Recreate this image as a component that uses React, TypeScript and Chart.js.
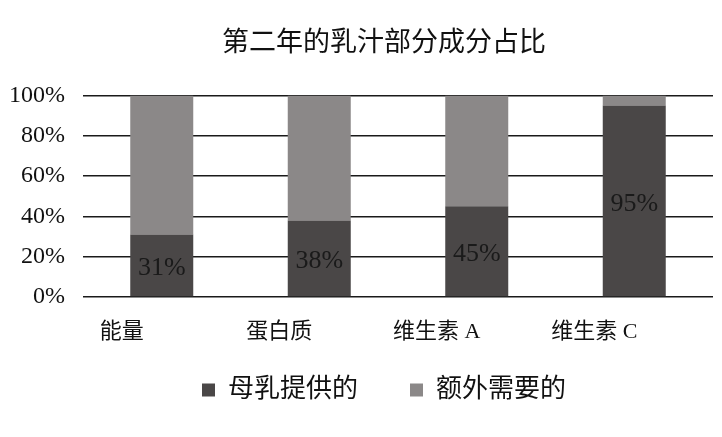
import React, { useEffect, useRef } from "react";
import { Chart, registerables } from "chart.js";

Chart.register(...registerables);

const categories = ["能量", "蛋白质", "维生素 A", "维生素 C"];
const breastMilk = [31, 38, 45, 95];
const extraNeeded = [69, 62, 55, 5];
const seriesNames = ["母乳提供的", "额外需要的"];
const titleText = "第二年的乳汁部分成分占比";

const CJK = "'Liberation Serif', 'Noto Sans CJK SC', serif";

const labelPlugin = {
  id: "innerLabels",
  afterDatasetsDraw(chart: any) {
    const meta = chart.getDatasetMeta(0);
    const ctx = chart.ctx;
    ctx.save();
    ctx.font = "26px 'Liberation Serif', serif";
    ctx.fillStyle = "#1a1a1a";
    ctx.textAlign = "center";
    ctx.textBaseline = "middle";
    meta.data.forEach((bar: any, i: number) => {
      const y = (bar.y + bar.base) / 2 + 3;
      ctx.fillText(breastMilk[i] + "%", bar.x, y);
    });
    ctx.restore();
  },
};

export default function App() {
  const ref = useRef<HTMLCanvasElement | null>(null);
  useEffect(() => {
    document.body.style.margin = "0";
    const chart = new Chart(ref.current as HTMLCanvasElement, {
      type: "bar",
      data: {
        labels: categories,
        datasets: [
          {
            label: seriesNames[0],
            data: breastMilk,
            backgroundColor: "#4a4747",
            barPercentage: 0.4,
            categoryPercentage: 1,
          },
          {
            label: seriesNames[1],
            data: extraNeeded,
            backgroundColor: "#8b8888",
            barPercentage: 0.4,
            categoryPercentage: 1,
          },
        ],
      },
      plugins: [labelPlugin],
      options: {
        animation: false,
        responsive: false,
        layout: { padding: { left: 55, right: 9, top: 28, bottom: 24 } },
        plugins: {
          title: {
            display: true,
            text: titleText,
            color: "#111",
            font: { family: CJK, size: 27, weight: "normal" },
            padding: { top: 0, bottom: 35 },
          },
          legend: {
            position: "bottom",
            labels: {
              color: "#111",
              font: { family: CJK, size: 26 },
              boxWidth: 13,
              boxHeight: 13,
              padding: 52,
            },
          },
          tooltip: { enabled: false },
        },
        scales: {
          x: {
            stacked: true,
            grid: { display: false },
            border: { display: false },
            afterFit: (scale: any) => {
              scale.height = 28;
            },
            ticks: {
              color: "#111",
              font: { family: CJK, size: 22 },
              mirror: true,
              padding: -48,
              labelOffset: -40,
            },
          },
          y: {
            stacked: true,
            min: 0,
            max: 100,
            border: { display: false },
            afterFit: (scale: any) => {
              scale.width = 28;
            },
            grid: { color: "#1a1a1a", lineWidth: 1.5, drawTicks: false },
            ticks: {
              stepSize: 20,
              color: "#111",
              font: { family: "'Liberation Serif', serif", size: 24 },
              mirror: true,
              crossAlign: "far",
              padding: -74,
              callback: (v: any) => v + "%",
            },
          },
        },
      },
    });
    return () => chart.destroy();
  }, []);
  return (
    <div style={{ width: 722, height: 437 }}>
      <canvas ref={ref} width={722} height={437} />
    </div>
  );
}
